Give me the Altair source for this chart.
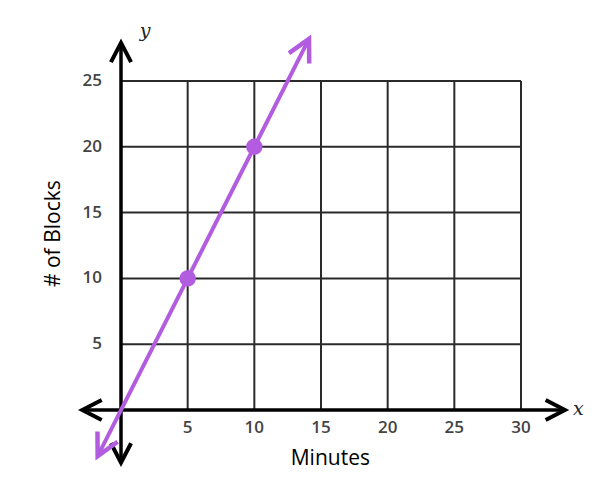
import altair as alt
import pandas as pd

# ---- data ----
x_ticks = [5, 10, 15, 20, 25, 30]
y_ticks = [5, 10, 15, 20, 25]
grid_x_max = 30
grid_y_max = 25
pts_x = [5, 10]
pts_y = [10, 20]
line_x = [-1.75, 14.1]
line_y = [-3.5, 28.2]
xaxis_ext = [-2.9, 33.3]
yaxis_ext = [-4.0, 27.9]

XD = [-8.475, 35.025]
YD = [-4.863, 30.547]
PURPLE = "#B25CE0"
CHEVRON = "M-0.52,1L0,0L0.52,1"

xs = alt.Scale(domain=XD, nice=False, zero=False)
ys = alt.Scale(domain=YD, nice=False, zero=False)

def X(f, t="Q"):
    return alt.X(f"{f}:{t}", scale=xs, axis=None)

def Y(f, t="Q"):
    return alt.Y(f"{f}:{t}", scale=ys, axis=None)

vg = pd.DataFrame({"x": x_ticks, "y0": 0, "y1": grid_y_max})
hg = pd.DataFrame({"y": y_ticks, "x0": 0, "x1": grid_x_max})

vgrid = alt.Chart(vg).mark_rule(color="#2a2a2a", strokeWidth=2).encode(
    x=X("x"), y=Y("y0"), y2="y1")
hgrid = alt.Chart(hg).mark_rule(color="#2a2a2a", strokeWidth=2).encode(
    y=Y("y"), x=X("x0"), x2="x1")

xaxis = alt.Chart(pd.DataFrame({"a": [xaxis_ext[0]], "b": [xaxis_ext[1]], "y": [0]})).mark_rule(
    color="black", strokeWidth=3.5).encode(x=X("a"), x2="b", y=Y("y"))
yaxis = alt.Chart(pd.DataFrame({"a": [yaxis_ext[0]], "b": [yaxis_ext[1]], "x": [0]})).mark_rule(
    color="black", strokeWidth=3.5).encode(y=Y("a"), y2="b", x=X("x"))

heads = pd.DataFrame({
    "x": [xaxis_ext[1], xaxis_ext[0], 0, 0],
    "y": [0, 0, yaxis_ext[1], yaxis_ext[0]],
    "angle": [90, 270, 0, 180],
})
axis_heads = alt.Chart(heads).mark_point(
    shape=CHEVRON, filled=False, stroke="black", strokeWidth=4, size=1500, opacity=1,
    strokeJoin="miter").encode(x=X("x"), y=Y("y"), angle=alt.Angle("angle:Q", scale=None))

pline = alt.Chart(pd.DataFrame({"x": line_x, "y": line_y})).mark_line(
    color=PURPLE, strokeWidth=4).encode(x=X("x"), y=Y("y"))
pheads = alt.Chart(pd.DataFrame({"x": line_x, "y": line_y, "angle": [207, 27]})).mark_point(
    shape=CHEVRON, filled=False, stroke=PURPLE, strokeWidth=4.5, size=1900, opacity=1,
    strokeJoin="miter").encode(x=X("x"), y=Y("y"), angle=alt.Angle("angle:Q", scale=None))
ppts = alt.Chart(pd.DataFrame({"x": pts_x, "y": pts_y})).mark_circle(
    color=PURPLE, size=270, opacity=1).encode(x=X("x"), y=Y("y"))

xlab = alt.Chart(pd.DataFrame({"x": x_ticks, "y": 0, "t": [str(v) for v in x_ticks]})).mark_text(
    font="Open Sans", fontWeight=600, fontSize=17, color="#444444", dy=18, baseline="middle").encode(
    x=X("x"), y=Y("y"), text="t:N")
ylab = alt.Chart(pd.DataFrame({"y": y_ticks, "x": 0, "t": [str(v) for v in y_ticks]})).mark_text(
    font="Open Sans", fontWeight=600, fontSize=17, color="#444444", dx=-19, align="right",
    baseline="middle").encode(x=X("x"), y=Y("y"), text="t:N")

xtitle = alt.Chart(pd.DataFrame({"x": [15.7], "y": [-3.75], "t": ["Minutes"]})).mark_text(
    font="Open Sans", fontSize=21, color="black", baseline="middle").encode(
    x=X("x"), y=Y("y"), text="t:N")
ytitle = alt.Chart(pd.DataFrame({"x": [-5.05], "y": [13.4], "t": ["# of Blocks"]})).mark_text(
    font="Open Sans", fontSize=21, color="black", baseline="middle", angle=270).encode(
    x=X("x"), y=Y("y"), text="t:N")

letters = pd.DataFrame({"x": [34.3, 1.8], "y": [0.1, 28.8], "t": ["x", "y"]})
letter = alt.Chart(letters).mark_text(font="DejaVu Serif", fontStyle="italic", fontSize=19,
    color="#222222", baseline="middle").encode(x=X("x"), y=Y("y"), text="t:N")

chart = alt.layer(vgrid, hgrid, xaxis, yaxis, axis_heads, pline, pheads, ppts,
                  xlab, ylab, xtitle, ytitle, letter).properties(
    width=580, height=466, padding=0, autosize="none"
).configure_view(stroke=None)

chart.save("out.html", embed_options={"renderer": "svg", "actions": False})
